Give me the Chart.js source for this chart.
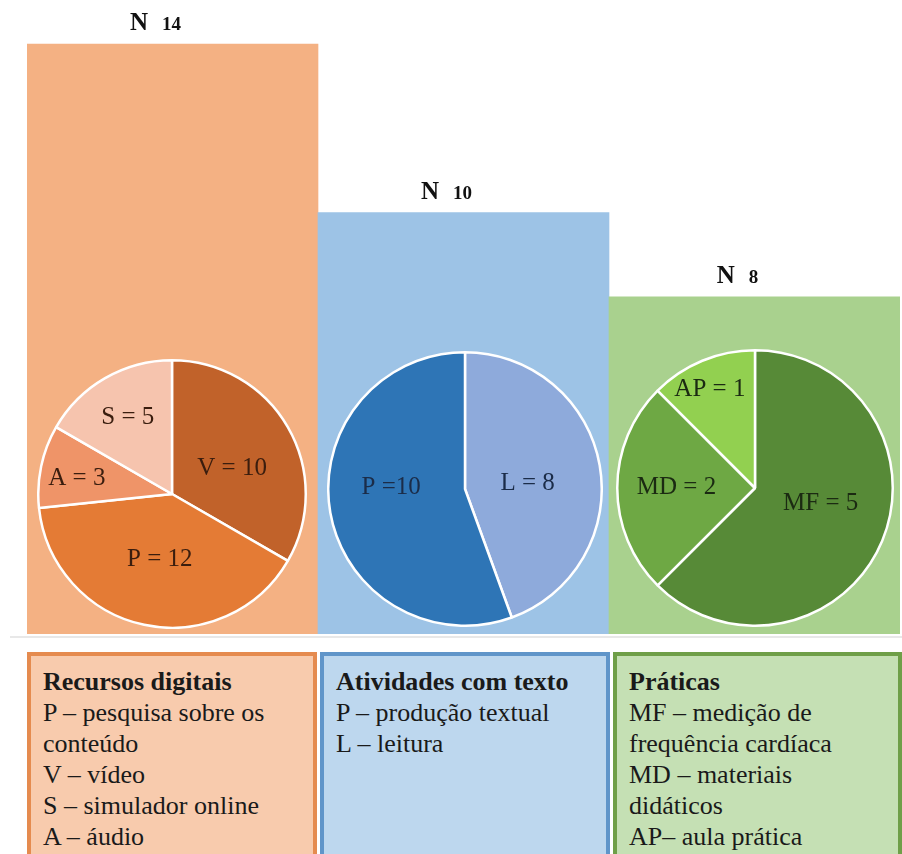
<!DOCTYPE html>
<html>
<head>
<meta charset="utf-8">
<script src="https://cdn.jsdelivr.net/npm/chart.js@4"></script>
<style>
    body { margin: 0; background: #fff; width: 902px; height: 854px; overflow: hidden; position: relative; }
    canvas { position: absolute; }
    .box { position: absolute; top: 652px; height: 230px; box-sizing: border-box; border: 4px solid; padding: 10px 0 0 12px;
           font-family: 'Liberation Serif', 'Times New Roman', Times, serif; font-size: 26px; line-height: 31px; color: #1a1a1a; }
    .box b { display: block; }
    .sep { position: absolute; left: 10px; top: 636px; width: 892px; height: 2px; background: #e8e8e8; }
</style>
</head>
<body>
<canvas id="barChart"></canvas>
<canvas id="pieRecursos"></canvas>
<canvas id="pieAtividades"></canvas>
<canvas id="piePraticas"></canvas>
<div class="sep"></div>
<div id="legends"></div>

<script>
// Data
const groups = ['Recursos digitais', 'Atividades com texto', 'Práticas'];
const groupN = [14, 10, 8];

const recursosLabels = ['V', 'P', 'A', 'S'];
const recursosValues = [10, 12, 3, 5];

const atividadesLabels = ['L', 'P'];
const atividadesValues = [8, 10];

const praticasLabels = ['MF', 'MD', 'AP'];
const praticasValues = [5, 2, 1];

const recursosLegend = ['P – pesquisa sobre os', 'conteúdo', 'V – vídeo', 'S – simulador online', 'A – áudio'];
const atividadesLegend = ['P – produção textual', 'L – leitura'];
const praticasLegend = ['MF – medição de', 'frequência cardíaca', 'MD – materiais', 'didáticos', 'AP– aula prática'];

// colours (Office-like palette)
const barColors = ['#f4b183', '#9dc3e6', '#a9d18e'];
const boxFill = ['#f8cbad', '#bdd7ee', '#c5e0b4'];
const boxBorder = ['#e58b4f', '#6095c9', '#6f9f48'];

const SERIF = "'Liberation Serif', 'Times New Roman', serif";

// legend boxes under the bars
const legendLines = [recursosLegend, atividadesLegend, praticasLegend];
const boxLeft = [27, 320, 613];
const boxWidth = [290, 290, 289];
const holder = document.getElementById('legends');
groups.forEach((g, i) => {
    const d = document.createElement('div');
    d.className = 'box';
    d.style.left = boxLeft[i] + 'px';
    d.style.width = boxWidth[i] + 'px';
    d.style.background = boxFill[i];
    d.style.borderColor = boxBorder[i];
    d.innerHTML = '<b>' + g + '</b>' + legendLines[i].join('<br>');
    holder.appendChild(d);
});

// "N 14" labels above the bars
const nLabels = {
    id: 'nLabels',
    afterDatasetsDraw(chart) {
        const ctx = chart.ctx;
        const meta = chart.getDatasetMeta(0);
        ctx.save();
        ctx.fillStyle = '#111';
        ctx.textBaseline = 'alphabetic';
        meta.data.forEach((bar, i) => {
            const num = String(chart.data.datasets[0].data[i]);
            ctx.font = 'bold 25px ' + SERIF;
            const wN = ctx.measureText('N').width;
            ctx.font = 'bold 19px ' + SERIF;
            const wNum = ctx.measureText(num).width;
            const gap = 14;
            let x = bar.x - 17 - (wN + gap + wNum) / 2;
            const y = bar.y - 14;
            ctx.font = 'bold 25px ' + SERIF;
            ctx.fillText('N', x, y);
            ctx.font = 'bold 19px ' + SERIF;
            ctx.fillText(num, x + wN + gap, y);
        });
        ctx.restore();
    }
};

// text inside the slices
const sliceLabels = {
    id: 'sliceLabels',
    afterDatasetsDraw(chart, args, opts) {
        const ctx = chart.ctx;
        const meta = chart.getDatasetMeta(0);
        const ds = chart.data.datasets[0];
        ctx.save();
        ctx.font = '25px ' + SERIF;
        ctx.fillStyle = opts.color;
        ctx.textAlign = 'center';
        ctx.textBaseline = 'middle';
        meta.data.forEach((arc, i) => {
            const p = arc.getProps(['x', 'y', 'startAngle', 'endAngle', 'outerRadius']);
            const a = (p.startAngle + p.endAngle) / 2 + opts.turn[i] * Math.PI / 180;
            const r = p.outerRadius * opts.dist[i];
            const sep = opts.sep ? opts.sep[i] : ' = ';
            ctx.fillText(chart.data.labels[i] + sep + ds.data[i], p.x + Math.cos(a) * r, p.y + Math.sin(a) * r);
        });
        ctx.restore();
    }
};

function makeBars() {
    const barCanvas = document.getElementById('barChart');
    barCanvas.width = 902; barCanvas.height = 640;
    barCanvas.style.left = '0px'; barCanvas.style.top = '0px';

    new Chart(barCanvas, {
        type: 'bar',
        data: {
            labels: groups,
            datasets: [{
                data: groupN,
                backgroundColor: barColors,
                borderWidth: 0,
                barPercentage: 1,
                categoryPercentage: 1
            }]
        },
        options: {
            responsive: false,
            animation: false,
            layout: { padding: { top: 2, bottom: 6, left: 27, right: 2 } },
            plugins: { legend: { display: false }, tooltip: { enabled: false } },
            scales: {
                x: { display: false },
                y: { display: false, min: 0, max: 15 }
            }
        },
        plugins: [nLabels]
    });
}

function makePie(id, left, top, size, labels, values, colors, labelOpts) {
    const c = document.getElementById(id);
    c.width = size; c.height = size;
    c.style.left = left + 'px'; c.style.top = top + 'px';
    new Chart(c, {
        type: 'pie',
        data: {
            labels: labels,
            datasets: [{
                data: values,
                backgroundColor: colors,
                borderColor: '#ffffff',
                borderWidth: 2.5
            }]
        },
        options: {
            responsive: false,
            animation: false,
            layout: { padding: 0 },
            plugins: {
                legend: { display: false },
                tooltip: { enabled: false },
                sliceLabels: labelOpts
            }
        },
        plugins: [sliceLabels]
    });
}

function drawAll() {
    makeBars();
    makePie('pieRecursos', 37, 359, 270, recursosLabels, recursosValues,
        ['#c1622a', '#e47b35', '#ef9468', '#f6c4ae'],
        { color: '#3a1d0e', dist: [0.49, 0.5, 0.72, 0.66], turn: [6.6, -1.5, -3, 0] });
    makePie('pieAtividades', 327, 351, 276, atividadesLabels, atividadesValues,
        ['#8eaadb', '#2e75b6'],
        { color: '#1b2c48', dist: [0.46, 0.54], turn: [4.5, 11], sep: [' = ', ' ='] });
    makePie('piePraticas', 616, 349, 278, praticasLabels, praticasValues,
        ['#578a37', '#6ea844', '#92d050'],
        { color: '#1b2a12', dist: [0.49, 0.57, 0.79], turn: [-9, 0.7, -2] });
}

// wait for the serif face so canvas text does not fall back
Promise.all([
    document.fonts.load('25px "Liberation Serif"'),
    document.fonts.load('bold 25px "Liberation Serif"')
]).then(drawAll, drawAll);
</script>
</body>
</html>
